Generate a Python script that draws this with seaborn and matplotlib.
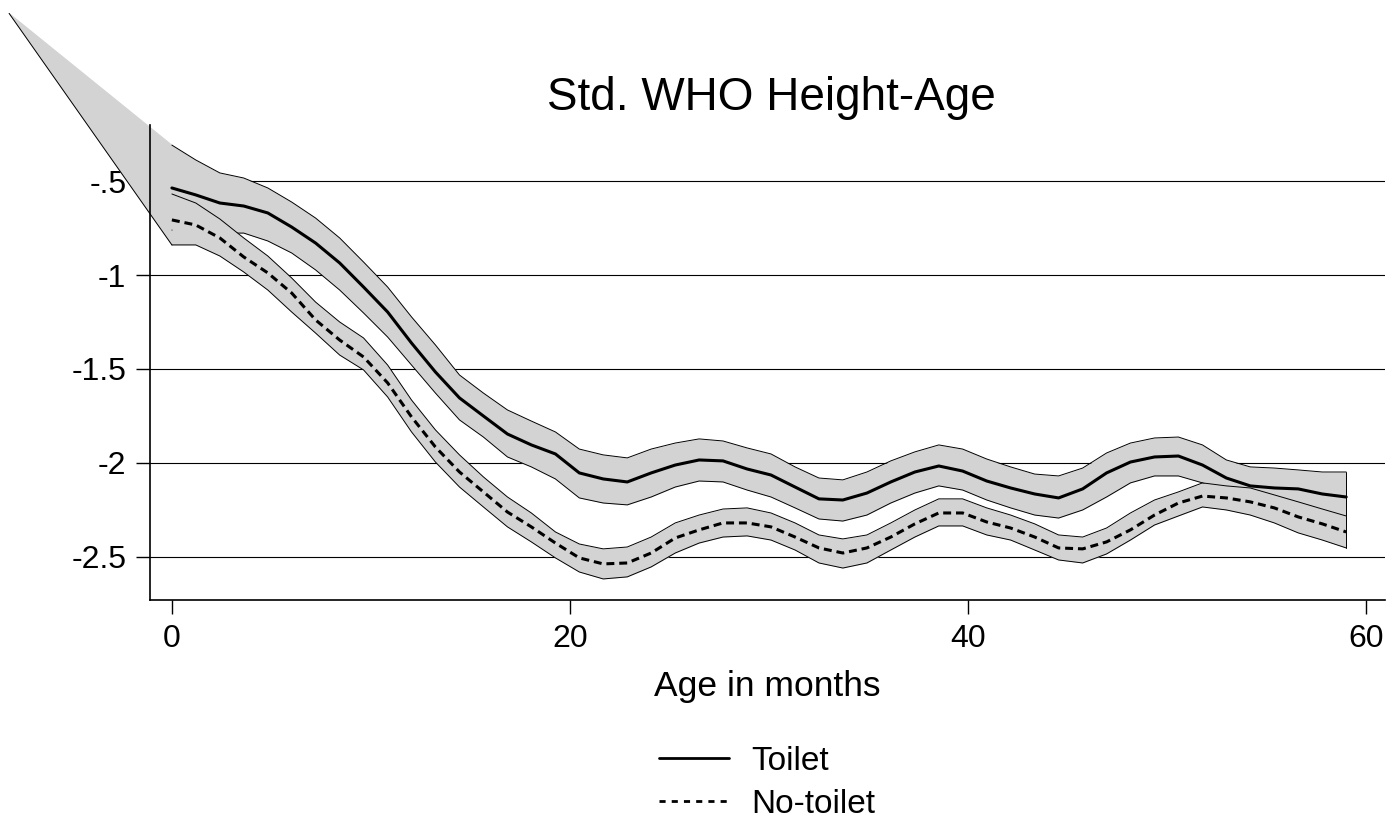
import numpy as np
import pandas as pd
import seaborn as sns
import matplotlib.pyplot as plt
from matplotlib.lines import Line2D
from matplotlib.ticker import FuncFormatter

# age in months of each smoothing point
age = [0.00, 1.20, 2.41, 3.61, 4.82, 6.02, 7.22, 8.43, 9.63, 10.84,
       12.04, 13.24, 14.45, 15.65, 16.86, 18.06, 19.27, 20.47, 21.67, 22.88,
       24.08, 25.29, 26.49, 27.69, 28.90, 30.10, 31.31, 32.51, 33.71, 34.92,
       36.12, 37.33, 38.53, 39.73, 40.94, 42.14, 43.35, 44.55, 45.76, 46.96,
       48.16, 49.37, 50.57, 51.78, 52.98, 54.18, 55.39, 56.59, 57.80, 59.00]

toilet_mean = [-0.537, -0.574, -0.617, -0.633, -0.670, -0.745, -0.830, -0.936, -1.064, -1.197,
               -1.362, -1.516, -1.654, -1.750, -1.846, -1.904, -1.952, -2.053, -2.085, -2.101,
               -2.053, -2.011, -1.984, -1.989, -2.032, -2.064, -2.128, -2.191, -2.197, -2.160,
               -2.101, -2.048, -2.016, -2.043, -2.096, -2.133, -2.165, -2.186, -2.138, -2.053,
               -1.995, -1.968, -1.963, -2.011, -2.080, -2.122, -2.133, -2.138, -2.165, -2.181]
toilet_hi = [-0.309, -0.388, -0.457, -0.484, -0.537, -0.612, -0.697, -0.803, -0.931, -1.064,
             -1.223, -1.372, -1.532, -1.628, -1.718, -1.777, -1.835, -1.926, -1.957, -1.973,
             -1.926, -1.894, -1.872, -1.883, -1.920, -1.952, -2.021, -2.080, -2.090, -2.048,
             -1.989, -1.941, -1.904, -1.926, -1.979, -2.021, -2.059, -2.069, -2.027, -1.947,
             -1.894, -1.867, -1.862, -1.904, -1.984, -2.021, -2.027, -2.037, -2.048, -2.048]
toilet_lo = [-0.761, -0.761, -0.777, -0.777, -0.819, -0.883, -0.973, -1.080, -1.202, -1.330,
             -1.479, -1.628, -1.771, -1.862, -1.968, -2.021, -2.085, -2.186, -2.213, -2.223,
             -2.181, -2.128, -2.096, -2.101, -2.144, -2.181, -2.239, -2.298, -2.309, -2.277,
             -2.213, -2.160, -2.122, -2.144, -2.197, -2.239, -2.277, -2.293, -2.250, -2.181,
             -2.106, -2.069, -2.069, -2.106, -2.176, -2.223, -2.239, -2.245, -2.282, -2.314]

notoilet_mean = [-0.707, -0.734, -0.803, -0.904, -0.989, -1.096, -1.239, -1.346, -1.436, -1.574,
                 -1.755, -1.915, -2.048, -2.154, -2.261, -2.340, -2.426, -2.505, -2.537, -2.532,
                 -2.479, -2.399, -2.356, -2.319, -2.319, -2.340, -2.394, -2.452, -2.479, -2.452,
                 -2.394, -2.324, -2.266, -2.266, -2.314, -2.346, -2.394, -2.452, -2.457, -2.420,
                 -2.356, -2.277, -2.213, -2.176, -2.186, -2.207, -2.239, -2.287, -2.324, -2.367]
notoilet_hi = [-0.569, -0.617, -0.702, -0.803, -0.899, -1.016, -1.144, -1.250, -1.335, -1.479,
               -1.665, -1.824, -1.957, -2.074, -2.181, -2.266, -2.367, -2.431, -2.457, -2.447,
               -2.394, -2.319, -2.277, -2.245, -2.239, -2.266, -2.319, -2.383, -2.404, -2.383,
               -2.319, -2.250, -2.191, -2.191, -2.239, -2.277, -2.324, -2.383, -2.394, -2.346,
               -2.266, -2.197, -2.154, -2.106, -2.122, -2.133, -2.170, -2.207, -2.245, -2.282]
notoilet_lo = [-0.840, -0.840, -0.899, -0.984, -1.080, -1.197, -1.309, -1.426, -1.505, -1.649,
               -1.835, -1.995, -2.128, -2.234, -2.340, -2.420, -2.505, -2.580, -2.617, -2.606,
               -2.553, -2.479, -2.426, -2.394, -2.388, -2.410, -2.463, -2.532, -2.559, -2.532,
               -2.463, -2.394, -2.335, -2.335, -2.383, -2.410, -2.463, -2.516, -2.532, -2.484,
               -2.410, -2.330, -2.282, -2.234, -2.250, -2.277, -2.319, -2.372, -2.410, -2.452]

# stray wedge of the band that spills out past the left of the plot
stray_age = [-8.18, 0.0]
stray_hi = [0.392, -0.309]
stray_lo = [0.392, -0.840]

y_ticks = [-0.5, -1.0, -1.5, -2.0, -2.5]
x_ticks = [0, 20, 40, 60]
groups = ["Toilet", "No-toilet"]

BAND = "#d3d3d3"

sns.set_theme(style="white")
plt.rcParams["font.family"] = ["Liberation Sans", "DejaVu Sans"]

df = pd.DataFrame({
    "age": age * 2,
    "z": toilet_mean + notoilet_mean,
    "group": [groups[0]] * len(age) + [groups[1]] * len(age),
})

fig = plt.figure(figsize=(13.89, 8.21), dpi=100)
ax = fig.add_axes([150 / 1389, 221 / 821, 1235 / 1389, 475 / 821])

# confidence bands: toilet first, no-toilet painted over it
for lo, hi, z in [(toilet_lo, toilet_hi, 2.0), (notoilet_lo, notoilet_hi, 2.1)]:
    ax.fill_between(age, lo, hi, color=BAND, lw=0, zorder=z)
    ax.plot(age, lo, color="black", lw=0.7, zorder=z)
    ax.plot(age, hi, color="black", lw=0.7, zorder=z)
    ax.plot([age[-1], age[-1]], [lo[-1], hi[-1]], color="black", lw=0.7, zorder=z)

ax.fill_between(stray_age, stray_lo, stray_hi, facecolor=BAND, edgecolor=BAND,
                lw=0.8, zorder=1.9, clip_on=False)
ax.plot(stray_age, stray_lo, color="black", lw=0.7, zorder=2.2, clip_on=False)

sns.lineplot(data=df, x="age", y="z", hue="group", style="group",
             palette={"Toilet": "black", "No-toilet": "black"},
             dashes={"Toilet": "", "No-toilet": (2.6, 1.6)},
             lw=2.2, errorbar=None, legend=False, zorder=3, ax=ax)

ax.set_xlim(-1.1, 60.95)
ax.set_ylim(-2.729, -0.202)
ax.set_xticks(x_ticks)
ax.set_yticks(y_ticks)
ax.yaxis.set_major_formatter(FuncFormatter(
    lambda v, p: ("%g" % v).replace("0.", ".")))
ax.grid(axis="y", color="black", lw=0.8, zorder=0.5)
ax.grid(axis="x", visible=False)
ax.set_axisbelow(True)

sns.despine(ax=ax)
for s in ["left", "bottom"]:
    ax.spines[s].set_color("black")
    ax.spines[s].set_linewidth(1.2)
ax.tick_params(bottom=True, left=True, length=10, width=1.0, color="black",
               labelsize=23, labelcolor="black", pad=7)

ax.set_xlabel("Age in months", fontsize=25.5, color="black", labelpad=12)
ax.set_ylabel("")

fig.text(771 / 1389, 1 - 110 / 821, "Std. WHO Height-Age", ha="center",
         va="baseline", fontsize=33, color="black")

handles = [Line2D([], [], color="black", lw=2.0),
           Line2D([], [], color="black", lw=2.0, dashes=(2.2, 2.2))]
fig.legend(handles, groups, loc="center", bbox_to_anchor=(767 / 1389, 1 - 783 / 821),
           frameon=False, fontsize=24, labelcolor="black", handlelength=2.1,
           handletextpad=0.65, labelspacing=0.36, borderpad=0.2)

fig.savefig("out.png", dpi=100)
